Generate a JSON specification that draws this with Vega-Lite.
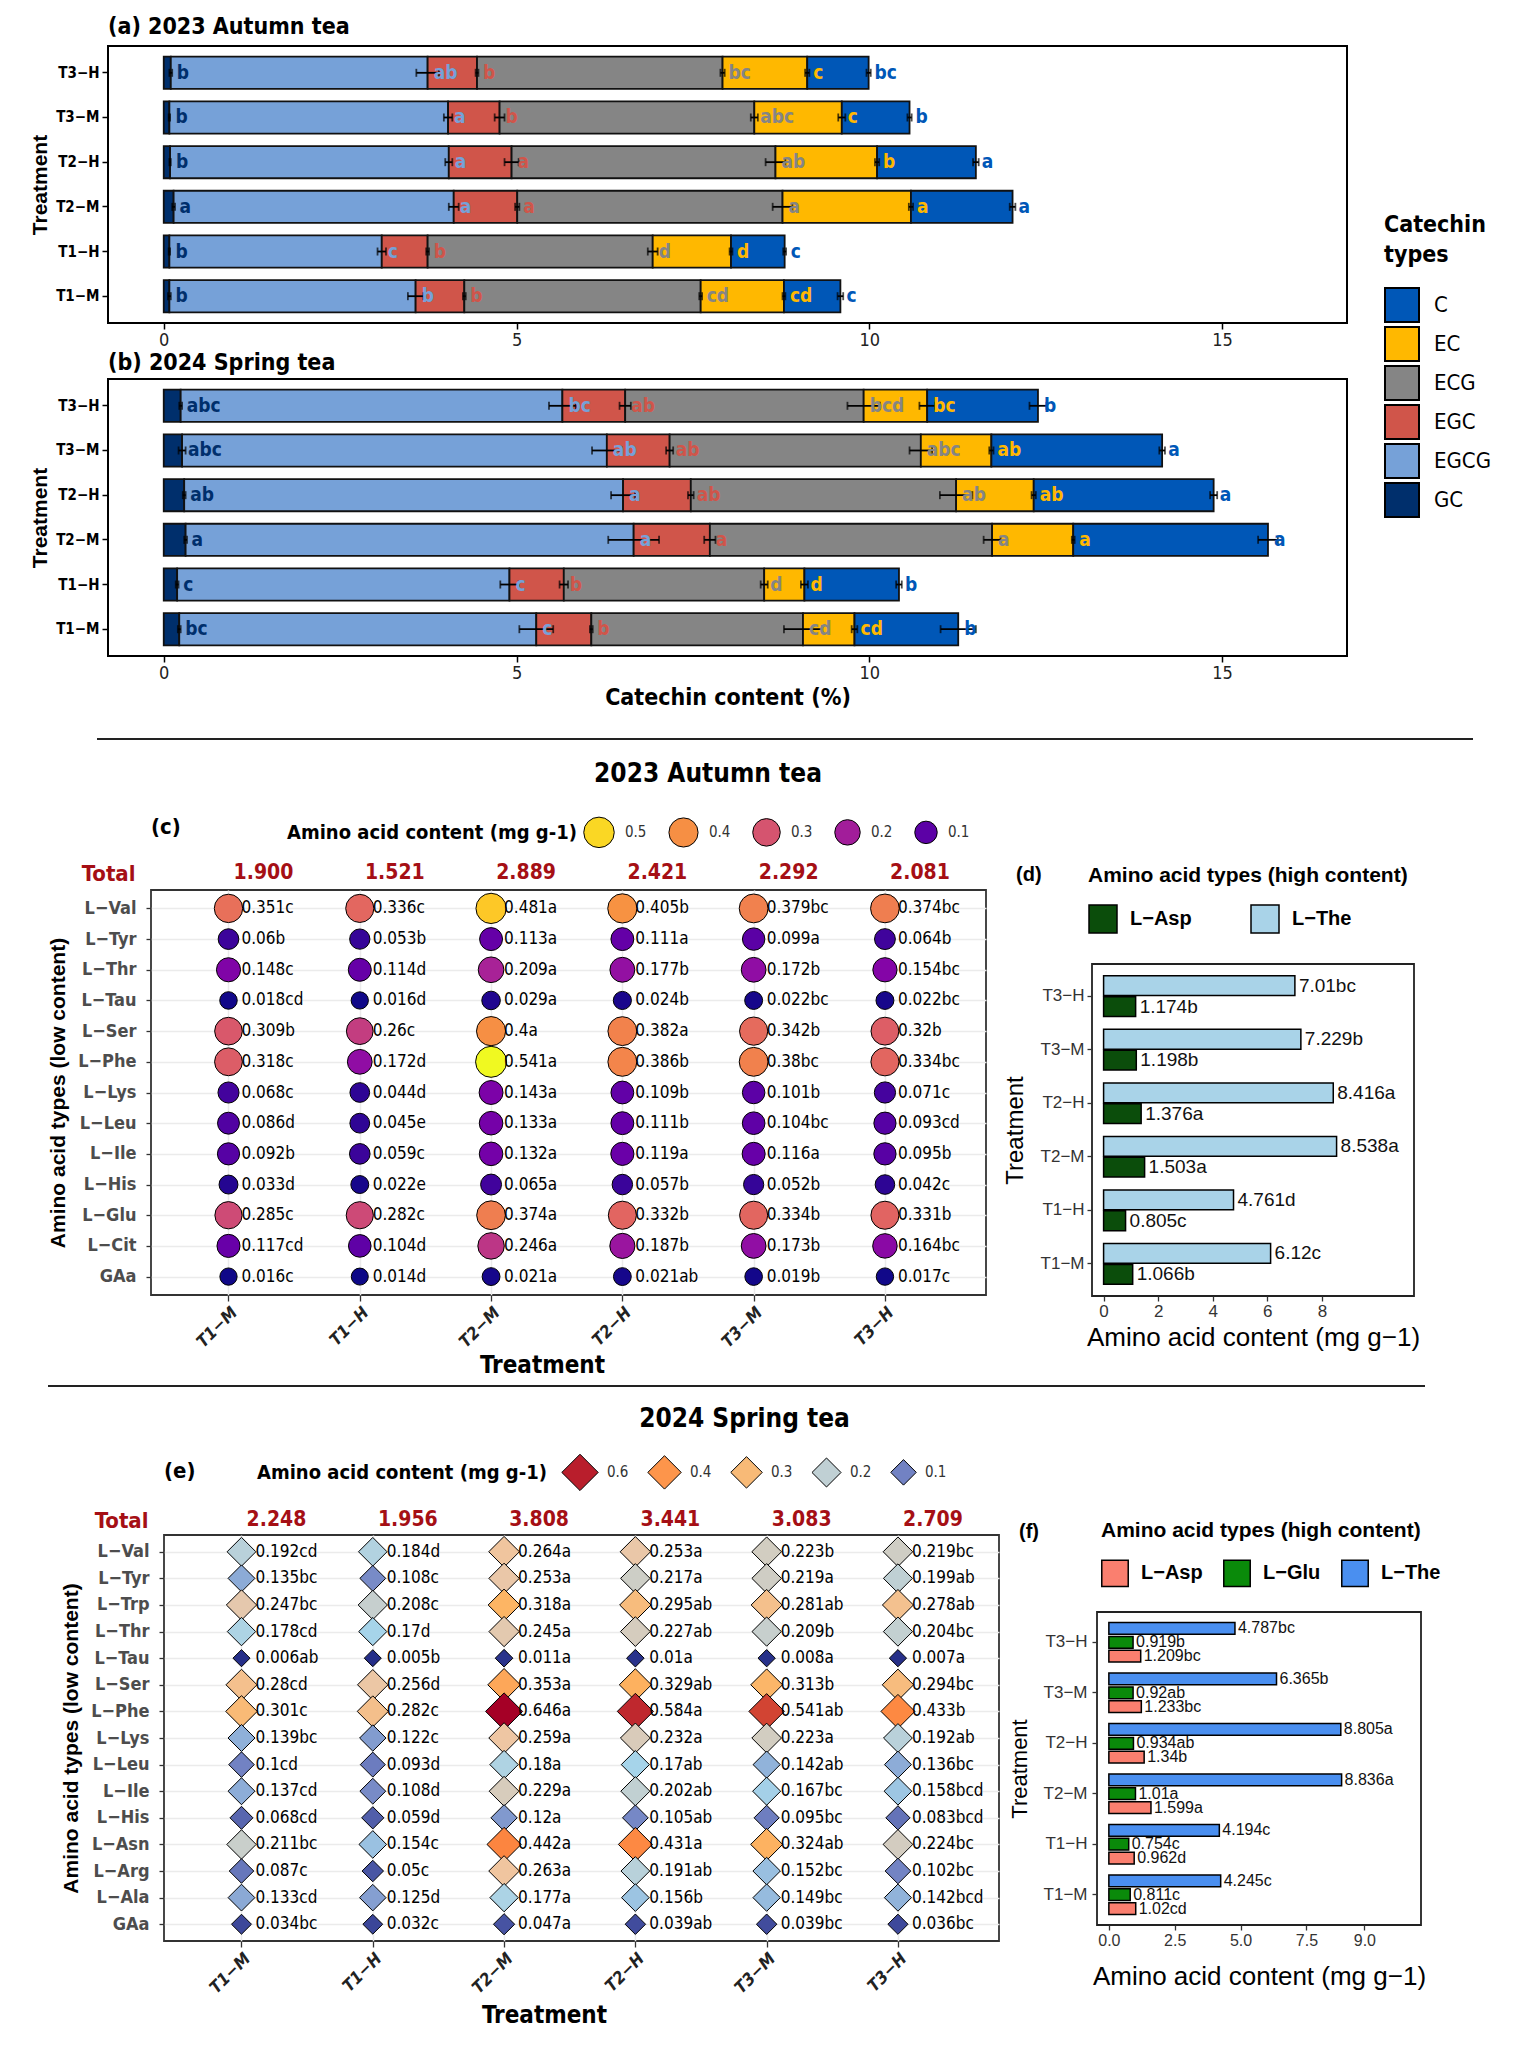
{
"$schema": "https://vega.github.io/schema/vega-lite/v6.json",
"background": "white",
"padding": {"left": 0, "top": 15, "right": 0, "bottom": 0},
"autosize": {"type": "pad"},
"config": {"view": {"stroke": null}, "axis": {"labelFont": "Liberation Sans", "titleFont": "Liberation Sans"}, "legend": {"labelFont": "Liberation Sans", "titleFont": "Liberation Sans", "titleLimit": 500, "labelLimit": 300}, "title": {"font": "Liberation Sans"}, "text": {"font": "Liberation Sans"}},
"datasets": {
"cat23": [
{"t":"T3−H","k":"GC","v":0.10,"se":0.02,"l":"b"},{"t":"T3−H","k":"EGCG","v":3.64,"se":0.16,"l":"ab"},{"t":"T3−H","k":"EGC","v":0.70,"se":0.02,"l":"b"},{"t":"T3−H","k":"ECG","v":3.48,"se":0.03,"l":"bc"},{"t":"T3−H","k":"EC","v":1.20,"se":0.03,"l":"c"},{"t":"T3−H","k":"C","v":0.87,"se":0.03,"l":"bc"},
{"t":"T3−M","k":"GC","v":0.08,"se":0.01,"l":"b"},{"t":"T3−M","k":"EGCG","v":3.95,"se":0.06,"l":"a"},{"t":"T3−M","k":"EGC","v":0.73,"se":0.07,"l":"b"},{"t":"T3−M","k":"ECG","v":3.61,"se":0.05,"l":"abc"},{"t":"T3−M","k":"EC","v":1.24,"se":0.05,"l":"c"},{"t":"T3−M","k":"C","v":0.96,"se":0.03,"l":"b"},
{"t":"T2−H","k":"GC","v":0.09,"se":0.01,"l":"b"},{"t":"T2−H","k":"EGCG","v":3.95,"se":0.05,"l":"a"},{"t":"T2−H","k":"EGC","v":0.89,"se":0.10,"l":"a"},{"t":"T2−H","k":"ECG","v":3.74,"se":0.14,"l":"ab"},{"t":"T2−H","k":"EC","v":1.44,"se":0.03,"l":"b"},{"t":"T2−H","k":"C","v":1.40,"se":0.04,"l":"a"},
{"t":"T2−M","k":"GC","v":0.14,"se":0.02,"l":"a"},{"t":"T2−M","k":"EGCG","v":3.97,"se":0.07,"l":"a"},{"t":"T2−M","k":"EGC","v":0.90,"se":0.03,"l":"a"},{"t":"T2−M","k":"ECG","v":3.76,"se":0.14,"l":"a"},{"t":"T2−M","k":"EC","v":1.82,"se":0.03,"l":"a"},{"t":"T2−M","k":"C","v":1.44,"se":0.04,"l":"a"},
{"t":"T1−H","k":"GC","v":0.08,"se":0.01,"l":"b"},{"t":"T1−H","k":"EGCG","v":3.01,"se":0.06,"l":"c"},{"t":"T1−H","k":"EGC","v":0.65,"se":0.02,"l":"b"},{"t":"T1−H","k":"ECG","v":3.19,"se":0.07,"l":"d"},{"t":"T1−H","k":"EC","v":1.11,"se":0.02,"l":"d"},{"t":"T1−H","k":"C","v":0.76,"se":0.02,"l":"c"},
{"t":"T1−M","k":"GC","v":0.08,"se":0.02,"l":"b"},{"t":"T1−M","k":"EGCG","v":3.49,"se":0.11,"l":"b"},{"t":"T1−M","k":"EGC","v":0.69,"se":0.02,"l":"b"},{"t":"T1−M","k":"ECG","v":3.35,"se":0.02,"l":"cd"},{"t":"T1−M","k":"EC","v":1.18,"se":0.02,"l":"cd"},{"t":"T1−M","k":"C","v":0.80,"se":0.04,"l":"c"}
],
"cat24": [
{"t":"T3−H","k":"GC","v":0.24,"se":0.02,"l":"abc"},{"t":"T3−H","k":"EGCG","v":5.41,"se":0.19,"l":"bc"},{"t":"T3−H","k":"EGC","v":0.89,"se":0.08,"l":"ab"},{"t":"T3−H","k":"ECG","v":3.38,"se":0.23,"l":"bcd"},{"t":"T3−H","k":"EC","v":0.90,"se":0.11,"l":"bc"},{"t":"T3−H","k":"C","v":1.57,"se":0.12,"l":"b"},
{"t":"T3−M","k":"GC","v":0.26,"se":0.05,"l":"abc"},{"t":"T3−M","k":"EGCG","v":6.02,"se":0.21,"l":"ab"},{"t":"T3−M","k":"EGC","v":0.89,"se":0.05,"l":"ab"},{"t":"T3−M","k":"ECG","v":3.56,"se":0.16,"l":"abc"},{"t":"T3−M","k":"EC","v":1.00,"se":0.03,"l":"ab"},{"t":"T3−M","k":"C","v":2.42,"se":0.04,"l":"a"},
{"t":"T2−H","k":"GC","v":0.29,"se":0.02,"l":"ab"},{"t":"T2−H","k":"EGCG","v":6.22,"se":0.17,"l":"a"},{"t":"T2−H","k":"EGC","v":0.96,"se":0.04,"l":"ab"},{"t":"T2−H","k":"ECG","v":3.76,"se":0.23,"l":"ab"},{"t":"T2−H","k":"EC","v":1.10,"se":0.03,"l":"ab"},{"t":"T2−H","k":"C","v":2.55,"se":0.05,"l":"a"},
{"t":"T2−M","k":"GC","v":0.31,"se":0.02,"l":"a"},{"t":"T2−M","k":"EGCG","v":6.35,"se":0.36,"l":"a"},{"t":"T2−M","k":"EGC","v":1.08,"se":0.08,"l":"a"},{"t":"T2−M","k":"ECG","v":4.00,"se":0.12,"l":"a"},{"t":"T2−M","k":"EC","v":1.15,"se":0.02,"l":"a"},{"t":"T2−M","k":"C","v":2.76,"se":0.14,"l":"a"},
{"t":"T1−H","k":"GC","v":0.19,"se":0.02,"l":"c"},{"t":"T1−H","k":"EGCG","v":4.71,"se":0.13,"l":"c"},{"t":"T1−H","k":"EGC","v":0.77,"se":0.06,"l":"b"},{"t":"T1−H","k":"ECG","v":2.84,"se":0.05,"l":"d"},{"t":"T1−H","k":"EC","v":0.57,"se":0.05,"l":"d"},{"t":"T1−H","k":"C","v":1.34,"se":0.04,"l":"b"},
{"t":"T1−M","k":"GC","v":0.22,"se":0.02,"l":"bc"},{"t":"T1−M","k":"EGCG","v":5.06,"se":0.24,"l":"c"},{"t":"T1−M","k":"EGC","v":0.78,"se":0.02,"l":"b"},{"t":"T1−M","k":"ECG","v":3.00,"se":0.27,"l":"cd"},{"t":"T1−M","k":"EC","v":0.73,"se":0.04,"l":"cd"},{"t":"T1−M","k":"C","v":1.47,"se":0.25,"l":"b"}
],
"tot23": [{"r":"Total","t":"T1−M","s":"1.900"},{"r":"Total","t":"T1−H","s":"1.521"},{"r":"Total","t":"T2−M","s":"2.889"},{"r":"Total","t":"T2−H","s":"2.421"},{"r":"Total","t":"T3−M","s":"2.292"},{"r":"Total","t":"T3−H","s":"2.081"}],
"tot24": [{"r":"Total","t":"T1−M","s":"2.248"},{"r":"Total","t":"T1−H","s":"1.956"},{"r":"Total","t":"T2−M","s":"3.808"},{"r":"Total","t":"T2−H","s":"3.441"},{"r":"Total","t":"T3−M","s":"3.083"},{"r":"Total","t":"T3−H","s":"2.709"}],
"aa23": [
{"a":"L−Val","t":"T1−M","v":0.351,"l":"0.351c"},{"a":"L−Val","t":"T1−H","v":0.336,"l":"0.336c"},{"a":"L−Val","t":"T2−M","v":0.481,"l":"0.481a"},{"a":"L−Val","t":"T2−H","v":0.405,"l":"0.405b"},{"a":"L−Val","t":"T3−M","v":0.379,"l":"0.379bc"},{"a":"L−Val","t":"T3−H","v":0.374,"l":"0.374bc"},
{"a":"L−Tyr","t":"T1−M","v":0.06,"l":"0.06b"},{"a":"L−Tyr","t":"T1−H","v":0.053,"l":"0.053b"},{"a":"L−Tyr","t":"T2−M","v":0.113,"l":"0.113a"},{"a":"L−Tyr","t":"T2−H","v":0.111,"l":"0.111a"},{"a":"L−Tyr","t":"T3−M","v":0.099,"l":"0.099a"},{"a":"L−Tyr","t":"T3−H","v":0.064,"l":"0.064b"},
{"a":"L−Thr","t":"T1−M","v":0.148,"l":"0.148c"},{"a":"L−Thr","t":"T1−H","v":0.114,"l":"0.114d"},{"a":"L−Thr","t":"T2−M","v":0.209,"l":"0.209a"},{"a":"L−Thr","t":"T2−H","v":0.177,"l":"0.177b"},{"a":"L−Thr","t":"T3−M","v":0.172,"l":"0.172b"},{"a":"L−Thr","t":"T3−H","v":0.154,"l":"0.154bc"},
{"a":"L−Tau","t":"T1−M","v":0.018,"l":"0.018cd"},{"a":"L−Tau","t":"T1−H","v":0.016,"l":"0.016d"},{"a":"L−Tau","t":"T2−M","v":0.029,"l":"0.029a"},{"a":"L−Tau","t":"T2−H","v":0.024,"l":"0.024b"},{"a":"L−Tau","t":"T3−M","v":0.022,"l":"0.022bc"},{"a":"L−Tau","t":"T3−H","v":0.022,"l":"0.022bc"},
{"a":"L−Ser","t":"T1−M","v":0.309,"l":"0.309b"},{"a":"L−Ser","t":"T1−H","v":0.26,"l":"0.26c"},{"a":"L−Ser","t":"T2−M","v":0.4,"l":"0.4a"},{"a":"L−Ser","t":"T2−H","v":0.382,"l":"0.382a"},{"a":"L−Ser","t":"T3−M","v":0.342,"l":"0.342b"},{"a":"L−Ser","t":"T3−H","v":0.32,"l":"0.32b"},
{"a":"L−Phe","t":"T1−M","v":0.318,"l":"0.318c"},{"a":"L−Phe","t":"T1−H","v":0.172,"l":"0.172d"},{"a":"L−Phe","t":"T2−M","v":0.541,"l":"0.541a"},{"a":"L−Phe","t":"T2−H","v":0.386,"l":"0.386b"},{"a":"L−Phe","t":"T3−M","v":0.38,"l":"0.38bc"},{"a":"L−Phe","t":"T3−H","v":0.334,"l":"0.334bc"},
{"a":"L−Lys","t":"T1−M","v":0.068,"l":"0.068c"},{"a":"L−Lys","t":"T1−H","v":0.044,"l":"0.044d"},{"a":"L−Lys","t":"T2−M","v":0.143,"l":"0.143a"},{"a":"L−Lys","t":"T2−H","v":0.109,"l":"0.109b"},{"a":"L−Lys","t":"T3−M","v":0.101,"l":"0.101b"},{"a":"L−Lys","t":"T3−H","v":0.071,"l":"0.071c"},
{"a":"L−Leu","t":"T1−M","v":0.086,"l":"0.086d"},{"a":"L−Leu","t":"T1−H","v":0.045,"l":"0.045e"},{"a":"L−Leu","t":"T2−M","v":0.133,"l":"0.133a"},{"a":"L−Leu","t":"T2−H","v":0.111,"l":"0.111b"},{"a":"L−Leu","t":"T3−M","v":0.104,"l":"0.104bc"},{"a":"L−Leu","t":"T3−H","v":0.093,"l":"0.093cd"},
{"a":"L−Ile","t":"T1−M","v":0.092,"l":"0.092b"},{"a":"L−Ile","t":"T1−H","v":0.059,"l":"0.059c"},{"a":"L−Ile","t":"T2−M","v":0.132,"l":"0.132a"},{"a":"L−Ile","t":"T2−H","v":0.119,"l":"0.119a"},{"a":"L−Ile","t":"T3−M","v":0.116,"l":"0.116a"},{"a":"L−Ile","t":"T3−H","v":0.095,"l":"0.095b"},
{"a":"L−His","t":"T1−M","v":0.033,"l":"0.033d"},{"a":"L−His","t":"T1−H","v":0.022,"l":"0.022e"},{"a":"L−His","t":"T2−M","v":0.065,"l":"0.065a"},{"a":"L−His","t":"T2−H","v":0.057,"l":"0.057b"},{"a":"L−His","t":"T3−M","v":0.052,"l":"0.052b"},{"a":"L−His","t":"T3−H","v":0.042,"l":"0.042c"},
{"a":"L−Glu","t":"T1−M","v":0.285,"l":"0.285c"},{"a":"L−Glu","t":"T1−H","v":0.282,"l":"0.282c"},{"a":"L−Glu","t":"T2−M","v":0.374,"l":"0.374a"},{"a":"L−Glu","t":"T2−H","v":0.332,"l":"0.332b"},{"a":"L−Glu","t":"T3−M","v":0.334,"l":"0.334b"},{"a":"L−Glu","t":"T3−H","v":0.331,"l":"0.331b"},
{"a":"L−Cit","t":"T1−M","v":0.117,"l":"0.117cd"},{"a":"L−Cit","t":"T1−H","v":0.104,"l":"0.104d"},{"a":"L−Cit","t":"T2−M","v":0.246,"l":"0.246a"},{"a":"L−Cit","t":"T2−H","v":0.187,"l":"0.187b"},{"a":"L−Cit","t":"T3−M","v":0.173,"l":"0.173b"},{"a":"L−Cit","t":"T3−H","v":0.164,"l":"0.164bc"},
{"a":"GAa","t":"T1−M","v":0.016,"l":"0.016c"},{"a":"GAa","t":"T1−H","v":0.014,"l":"0.014d"},{"a":"GAa","t":"T2−M","v":0.021,"l":"0.021a"},{"a":"GAa","t":"T2−H","v":0.021,"l":"0.021ab"},{"a":"GAa","t":"T3−M","v":0.019,"l":"0.019b"},{"a":"GAa","t":"T3−H","v":0.017,"l":"0.017c"}
],
"aa24": [
{"a":"L−Val","t":"T1−M","v":0.192,"l":"0.192cd"},{"a":"L−Val","t":"T1−H","v":0.184,"l":"0.184d"},{"a":"L−Val","t":"T2−M","v":0.264,"l":"0.264a"},{"a":"L−Val","t":"T2−H","v":0.253,"l":"0.253a"},{"a":"L−Val","t":"T3−M","v":0.223,"l":"0.223b"},{"a":"L−Val","t":"T3−H","v":0.219,"l":"0.219bc"},
{"a":"L−Tyr","t":"T1−M","v":0.135,"l":"0.135bc"},{"a":"L−Tyr","t":"T1−H","v":0.108,"l":"0.108c"},{"a":"L−Tyr","t":"T2−M","v":0.253,"l":"0.253a"},{"a":"L−Tyr","t":"T2−H","v":0.217,"l":"0.217a"},{"a":"L−Tyr","t":"T3−M","v":0.219,"l":"0.219a"},{"a":"L−Tyr","t":"T3−H","v":0.199,"l":"0.199ab"},
{"a":"L−Trp","t":"T1−M","v":0.247,"l":"0.247bc"},{"a":"L−Trp","t":"T1−H","v":0.208,"l":"0.208c"},{"a":"L−Trp","t":"T2−M","v":0.318,"l":"0.318a"},{"a":"L−Trp","t":"T2−H","v":0.295,"l":"0.295ab"},{"a":"L−Trp","t":"T3−M","v":0.281,"l":"0.281ab"},{"a":"L−Trp","t":"T3−H","v":0.278,"l":"0.278ab"},
{"a":"L−Thr","t":"T1−M","v":0.178,"l":"0.178cd"},{"a":"L−Thr","t":"T1−H","v":0.17,"l":"0.17d"},{"a":"L−Thr","t":"T2−M","v":0.245,"l":"0.245a"},{"a":"L−Thr","t":"T2−H","v":0.227,"l":"0.227ab"},{"a":"L−Thr","t":"T3−M","v":0.209,"l":"0.209b"},{"a":"L−Thr","t":"T3−H","v":0.204,"l":"0.204bc"},
{"a":"L−Tau","t":"T1−M","v":0.006,"l":"0.006ab"},{"a":"L−Tau","t":"T1−H","v":0.005,"l":"0.005b"},{"a":"L−Tau","t":"T2−M","v":0.011,"l":"0.011a"},{"a":"L−Tau","t":"T2−H","v":0.01,"l":"0.01a"},{"a":"L−Tau","t":"T3−M","v":0.008,"l":"0.008a"},{"a":"L−Tau","t":"T3−H","v":0.007,"l":"0.007a"},
{"a":"L−Ser","t":"T1−M","v":0.28,"l":"0.28cd"},{"a":"L−Ser","t":"T1−H","v":0.256,"l":"0.256d"},{"a":"L−Ser","t":"T2−M","v":0.353,"l":"0.353a"},{"a":"L−Ser","t":"T2−H","v":0.329,"l":"0.329ab"},{"a":"L−Ser","t":"T3−M","v":0.313,"l":"0.313b"},{"a":"L−Ser","t":"T3−H","v":0.294,"l":"0.294bc"},
{"a":"L−Phe","t":"T1−M","v":0.301,"l":"0.301c"},{"a":"L−Phe","t":"T1−H","v":0.282,"l":"0.282c"},{"a":"L−Phe","t":"T2−M","v":0.646,"l":"0.646a"},{"a":"L−Phe","t":"T2−H","v":0.584,"l":"0.584a"},{"a":"L−Phe","t":"T3−M","v":0.541,"l":"0.541ab"},{"a":"L−Phe","t":"T3−H","v":0.433,"l":"0.433b"},
{"a":"L−Lys","t":"T1−M","v":0.139,"l":"0.139bc"},{"a":"L−Lys","t":"T1−H","v":0.122,"l":"0.122c"},{"a":"L−Lys","t":"T2−M","v":0.259,"l":"0.259a"},{"a":"L−Lys","t":"T2−H","v":0.232,"l":"0.232a"},{"a":"L−Lys","t":"T3−M","v":0.223,"l":"0.223a"},{"a":"L−Lys","t":"T3−H","v":0.192,"l":"0.192ab"},
{"a":"L−Leu","t":"T1−M","v":0.1,"l":"0.1cd"},{"a":"L−Leu","t":"T1−H","v":0.093,"l":"0.093d"},{"a":"L−Leu","t":"T2−M","v":0.18,"l":"0.18a"},{"a":"L−Leu","t":"T2−H","v":0.17,"l":"0.17ab"},{"a":"L−Leu","t":"T3−M","v":0.142,"l":"0.142ab"},{"a":"L−Leu","t":"T3−H","v":0.136,"l":"0.136bc"},
{"a":"L−Ile","t":"T1−M","v":0.137,"l":"0.137cd"},{"a":"L−Ile","t":"T1−H","v":0.108,"l":"0.108d"},{"a":"L−Ile","t":"T2−M","v":0.229,"l":"0.229a"},{"a":"L−Ile","t":"T2−H","v":0.202,"l":"0.202ab"},{"a":"L−Ile","t":"T3−M","v":0.167,"l":"0.167bc"},{"a":"L−Ile","t":"T3−H","v":0.158,"l":"0.158bcd"},
{"a":"L−His","t":"T1−M","v":0.068,"l":"0.068cd"},{"a":"L−His","t":"T1−H","v":0.059,"l":"0.059d"},{"a":"L−His","t":"T2−M","v":0.12,"l":"0.12a"},{"a":"L−His","t":"T2−H","v":0.105,"l":"0.105ab"},{"a":"L−His","t":"T3−M","v":0.095,"l":"0.095bc"},{"a":"L−His","t":"T3−H","v":0.083,"l":"0.083bcd"},
{"a":"L−Asn","t":"T1−M","v":0.211,"l":"0.211bc"},{"a":"L−Asn","t":"T1−H","v":0.154,"l":"0.154c"},{"a":"L−Asn","t":"T2−M","v":0.442,"l":"0.442a"},{"a":"L−Asn","t":"T2−H","v":0.431,"l":"0.431a"},{"a":"L−Asn","t":"T3−M","v":0.324,"l":"0.324ab"},{"a":"L−Asn","t":"T3−H","v":0.224,"l":"0.224bc"},
{"a":"L−Arg","t":"T1−M","v":0.087,"l":"0.087c"},{"a":"L−Arg","t":"T1−H","v":0.05,"l":"0.05c"},{"a":"L−Arg","t":"T2−M","v":0.263,"l":"0.263a"},{"a":"L−Arg","t":"T2−H","v":0.191,"l":"0.191ab"},{"a":"L−Arg","t":"T3−M","v":0.152,"l":"0.152bc"},{"a":"L−Arg","t":"T3−H","v":0.102,"l":"0.102bc"},
{"a":"L−Ala","t":"T1−M","v":0.133,"l":"0.133cd"},{"a":"L−Ala","t":"T1−H","v":0.125,"l":"0.125d"},{"a":"L−Ala","t":"T2−M","v":0.177,"l":"0.177a"},{"a":"L−Ala","t":"T2−H","v":0.156,"l":"0.156b"},{"a":"L−Ala","t":"T3−M","v":0.149,"l":"0.149bc"},{"a":"L−Ala","t":"T3−H","v":0.142,"l":"0.142bcd"},
{"a":"GAa","t":"T1−M","v":0.034,"l":"0.034bc"},{"a":"GAa","t":"T1−H","v":0.032,"l":"0.032c"},{"a":"GAa","t":"T2−M","v":0.047,"l":"0.047a"},{"a":"GAa","t":"T2−H","v":0.039,"l":"0.039ab"},{"a":"GAa","t":"T3−M","v":0.039,"l":"0.039bc"},{"a":"GAa","t":"T3−H","v":0.036,"l":"0.036bc"}
],
"hi23": [
{"t":"T3−H","k":"L−The","v":7.01,"l":"7.01bc"},{"t":"T3−M","k":"L−The","v":7.229,"l":"7.229b"},{"t":"T2−H","k":"L−The","v":8.416,"l":"8.416a"},{"t":"T2−M","k":"L−The","v":8.538,"l":"8.538a"},{"t":"T1−H","k":"L−The","v":4.761,"l":"4.761d"},{"t":"T1−M","k":"L−The","v":6.12,"l":"6.12c"},
{"t":"T3−H","k":"L−Asp","v":1.174,"l":"1.174b"},{"t":"T3−M","k":"L−Asp","v":1.198,"l":"1.198b"},{"t":"T2−H","k":"L−Asp","v":1.376,"l":"1.376a"},{"t":"T2−M","k":"L−Asp","v":1.503,"l":"1.503a"},{"t":"T1−H","k":"L−Asp","v":0.805,"l":"0.805c"},{"t":"T1−M","k":"L−Asp","v":1.066,"l":"1.066b"}
],
"hi24": [
{"t":"T3−H","k":"L−The","v":4.787,"l":"4.787bc"},{"t":"T3−M","k":"L−The","v":6.365,"l":"6.365b"},{"t":"T2−H","k":"L−The","v":8.805,"l":"8.805a"},{"t":"T2−M","k":"L−The","v":8.836,"l":"8.836a"},{"t":"T1−H","k":"L−The","v":4.194,"l":"4.194c"},{"t":"T1−M","k":"L−The","v":4.245,"l":"4.245c"},
{"t":"T3−H","k":"L−Glu","v":0.919,"l":"0.919b"},{"t":"T3−M","k":"L−Glu","v":0.92,"l":"0.92ab"},{"t":"T2−H","k":"L−Glu","v":0.934,"l":"0.934ab"},{"t":"T2−M","k":"L−Glu","v":1.01,"l":"1.01a"},{"t":"T1−H","k":"L−Glu","v":0.754,"l":"0.754c"},{"t":"T1−M","k":"L−Glu","v":0.811,"l":"0.811c"},
{"t":"T3−H","k":"L−Asp","v":1.209,"l":"1.209bc"},{"t":"T3−M","k":"L−Asp","v":1.233,"l":"1.233bc"},{"t":"T2−H","k":"L−Asp","v":1.34,"l":"1.34b"},{"t":"T2−M","k":"L−Asp","v":1.599,"l":"1.599a"},{"t":"T1−H","k":"L−Asp","v":0.962,"l":"0.962d"},{"t":"T1−M","k":"L−Asp","v":1.02,"l":"1.02cd"}
]
},
"spacing": 0,
"resolve": {"scale": {"color": "independent", "size": "independent", "yOffset": "independent"}, "legend": {"color": "independent", "size": "independent"}},
"vconcat": [
{"hconcat": [
  {"width":28,"height":1,"data":{"values":[]},"mark":"point","encoding":{}},
  {"vconcat": [
    {"width": 1239, "height": 277,
     "title": {"text": "(a) 2023 Autumn tea", "anchor": "start", "frame": "group", "baseline": "bottom", "offset": -16, "font": "Liberation Sans Narrow, Arial Narrow, DejaVu Sans Condensed, Liberation Sans", "fontSize": 23, "fontWeight": "bold", "color": "black"},
     "data": {"name": "cat23"},
     "transform": [{"stack": "v", "groupby": ["t"], "sort": [{"field": "k", "order": "descending"}], "as": ["x0", "x1"]}],
     "view": {"stroke": "black", "strokeWidth": 2},
     "encoding": {"y": {"field": "t", "type": "nominal", "title": "Treatment", "scale": {"domain": ["T3−H","T3−M","T2−H","T2−M","T1−H","T1−M"], "paddingInner": 0.28, "paddingOuter": 0.24},
        "axis": {"domain": false, "labelFont": "Liberation Sans Narrow, Arial Narrow, DejaVu Sans Condensed, Liberation Sans", "labelFontSize": 15, "labelFontWeight": "bold", "labelColor": "black", "labelPadding": 3, "tickSize": 6, "tickWidth": 1.5, "tickColor": "black", "titleFont": "Liberation Sans", "titleFontSize": 21, "titleFontWeight": "bold", "titleColor": "black", "titlePadding": 5}}},
     "layer": [
       {"mark": {"type": "bar", "stroke": "#111111", "strokeWidth": 1.8},
        "encoding": {"x": {"field": "x0", "type": "quantitative", "title": null, "scale": {"domain": [-0.79, 16.77], "nice": false, "zero": false},
            "axis": {"values": [0,5,10,15], "format": "d", "domain": false, "grid": false, "labelFont": "Liberation Sans Narrow, Arial Narrow, DejaVu Sans Condensed, Liberation Sans", "labelFontSize": 18, "labelColor": "#222222", "labelPadding": 2, "tickSize": 6, "tickWidth": 1.5, "tickColor": "black"}},
          "x2": {"field": "x1"},
          "color": {"field": "k", "type": "nominal", "scale": {"domain": ["C","EC","ECG","EGC","EGCG","GC"], "range": ["#0057b7","#ffb800","#858585","#d0554a","#76a1d8","#002f6c"]},
            "legend": {"orient": "none", "legendX": 1276, "legendY": 168, "title": ["Catechin", "types"], "titleFont": "Liberation Sans Narrow, Arial Narrow, DejaVu Sans Condensed, Liberation Sans", "titleFontSize": 23, "titleFontWeight": "bold", "titleColor": "black", "titleLineHeight": 30, "titlePadding": 20, "labelFont": "Liberation Sans Narrow, Arial Narrow, DejaVu Sans Condensed, Liberation Sans", "labelFontSize": 22, "labelColor": "black", "labelOffset": 14, "symbolType": "square", "symbolSize": 1156, "symbolStrokeColor": "black", "symbolStrokeWidth": 2, "rowPadding": -7, "symbolOpacity": 1}}}},
       {"mark": {"type": "errorbar", "ticks": true, "size": 8, "thickness": 1.8, "color": "black"},
        "encoding": {"x": {"field": "x1", "type": "quantitative", "title": null}, "xError": {"field": "se"}}},
       {"mark": {"type": "text", "align": "left", "baseline": "middle", "dx": 6, "font": "Liberation Sans Narrow, Arial Narrow, DejaVu Sans Condensed, Liberation Sans", "fontSize": 19, "fontWeight": "bold"},
        "encoding": {"x": {"field": "x1", "type": "quantitative", "title": null}, "text": {"field": "l"}, "color": {"field": "k", "type": "nominal"}}}
     ]},
    {"width": 1239, "height": 277,
     "title": {"text": "(b) 2024 Spring tea", "anchor": "start", "frame": "group", "baseline": "bottom", "offset": -19, "font": "Liberation Sans Narrow, Arial Narrow, DejaVu Sans Condensed, Liberation Sans", "fontSize": 23, "fontWeight": "bold", "color": "black"},
     "data": {"name": "cat24"},
     "transform": [{"stack": "v", "groupby": ["t"], "sort": [{"field": "k", "order": "descending"}], "as": ["x0", "x1"]}],
     "view": {"stroke": "black", "strokeWidth": 2},
     "encoding": {"y": {"field": "t", "type": "nominal", "title": "Treatment", "scale": {"domain": ["T3−H","T3−M","T2−H","T2−M","T1−H","T1−M"], "paddingInner": 0.28, "paddingOuter": 0.24},
        "axis": {"domain": false, "labelFont": "Liberation Sans Narrow, Arial Narrow, DejaVu Sans Condensed, Liberation Sans", "labelFontSize": 15, "labelFontWeight": "bold", "labelColor": "black", "labelPadding": 3, "tickSize": 6, "tickWidth": 1.5, "tickColor": "black", "titleFont": "Liberation Sans", "titleFontSize": 21, "titleFontWeight": "bold", "titleColor": "black", "titlePadding": 5}}},
     "layer": [
       {"mark": {"type": "bar", "stroke": "#111111", "strokeWidth": 1.8},
        "encoding": {"x": {"field": "x0", "type": "quantitative", "title": "Catechin content (%)", "scale": {"domain": [-0.79, 16.77], "nice": false, "zero": false},
            "axis": {"values": [0,5,10,15], "format": "d", "domain": false, "grid": false, "labelFont": "Liberation Sans Narrow, Arial Narrow, DejaVu Sans Condensed, Liberation Sans", "labelFontSize": 18, "labelColor": "#222222", "labelPadding": 2, "tickSize": 6, "tickWidth": 1.5, "tickColor": "black", "titleFont": "Liberation Sans Narrow, Arial Narrow, DejaVu Sans Condensed, Liberation Sans", "titleFontSize": 23, "titleFontWeight": "bold", "titleColor": "black", "titlePadding": 4}},
          "x2": {"field": "x1"},
          "color": {"field": "k", "type": "nominal", "scale": {"domain": ["C","EC","ECG","EGC","EGCG","GC"], "range": ["#0057b7","#ffb800","#858585","#d0554a","#76a1d8","#002f6c"]}, "legend": null}}},
       {"mark": {"type": "errorbar", "ticks": true, "size": 8, "thickness": 1.8, "color": "black"},
        "encoding": {"x": {"field": "x1", "type": "quantitative", "title": "Catechin content (%)"}, "xError": {"field": "se"}}},
       {"mark": {"type": "text", "align": "left", "baseline": "middle", "dx": 6, "font": "Liberation Sans Narrow, Arial Narrow, DejaVu Sans Condensed, Liberation Sans", "fontSize": 19, "fontWeight": "bold"},
        "encoding": {"x": {"field": "x1", "type": "quantitative", "title": "Catechin content (%)"}, "text": {"field": "l"}, "color": {"field": "k", "type": "nominal", "legend": null}}}
     ]}
  ], "spacing": 56, "bounds": "flush", "resolve": {"scale": {"color": "independent"}, "legend": {"color": "independent"}}}
 ], "spacing": 0, "resolve": {"scale": {"color": "independent"}, "legend": {"color": "independent"}}},
{"width":1,"height":28,"data":{"values":[]},"mark":"point","encoding":{}},
{"hconcat": [
  {"width":97,"height":1,"data":{"values":[]},"mark":"point","encoding":{}},
  {"width": 1376, "height": 2, "data": {"values": []}, "mark": "point", "encoding": {}, "view": {"fill": "#222222", "stroke": null},
   "title": {"text": "2023 Autumn tea", "orient": "bottom", "anchor": "middle", "dx": -77, "offset": 21, "baseline": "top", "font": "Liberation Sans Narrow, Arial Narrow, DejaVu Sans Condensed, Liberation Sans", "fontSize": 26, "fontWeight": "bold", "color": "black"}}
 ], "spacing": 0},
{"width":1,"height":28,"data":{"values":[]},"mark":"point","encoding":{}},
{"hconcat": [
  {"width":31,"height":1,"data":{"values":[]},"mark":"point","encoding":{}},
  {"vconcat": [
    {"width": 835, "height": 34, "data": {"name": "tot23"},
     "title": {"text": "(c)", "anchor": "start", "frame": "group", "baseline": "bottom", "offset": -5, "font": "Liberation Sans Narrow, Arial Narrow, DejaVu Sans Condensed, Liberation Sans", "fontSize": 22, "fontWeight": "bold", "color": "black"},
     "mark": {"type": "text", "dx": 35, "font": "Liberation Sans Narrow, Arial Narrow, DejaVu Sans Condensed, Liberation Sans", "fontSize": 21, "fontWeight": "bold", "color": "#a50f15"},
     "encoding": {
       "x": {"field": "t", "type": "nominal", "scale": {"type": "point", "domain": ["T1−M","T1−H","T2−M","T2−H","T3−M","T3−H"], "padding": 0.68, "align": 0.434}, "axis": null},
       "y": {"field": "r", "type": "nominal", "title": null, "axis": {"ticks": false, "domain": false, "labelFont": "Liberation Sans Narrow, Arial Narrow, DejaVu Sans Condensed, Liberation Sans", "labelFontSize": 22, "labelFontWeight": "bold", "labelColor": "#a50f15", "labelPadding": 16}},
       "text": {"field": "s"}}},
    {"width": 835, "height": 405, "data": {"name": "aa23"},
     "view": {"stroke": "#333333", "strokeWidth": 1.8},
     "encoding": {
       "x": {"field": "t", "type": "nominal", "title": "Treatment", "scale": {"type": "point", "domain": ["T1−M","T1−H","T2−M","T2−H","T3−M","T3−H"], "padding": 0.68, "align": 0.434},
         "axis": {"labelAngle": -45, "labelAlign": "right", "labelBaseline": "top", "labelFont": "Liberation Sans Narrow, Arial Narrow, DejaVu Sans Condensed, Liberation Sans", "labelFontSize": 17, "labelFontWeight": "bold", "labelFontStyle": "italic", "labelColor": "#222222", "labelPadding": 3, "tickSize": 6, "tickColor": "#333333", "tickWidth": 1.3, "domain": false, "grid": true, "gridColor": "#ebebeb", "gridWidth": 1.5, "titleFont": "Liberation Sans Narrow, Arial Narrow, DejaVu Sans Condensed, Liberation Sans", "titleFontSize": 24, "titleFontWeight": "bold", "titleColor": "black", "titleX": 391, "titleY": 70, "titleBaseline": "middle"}},
       "y": {"field": "a", "type": "nominal", "title": "Amino acid types (low content)", "scale": {"type": "point", "domain": ["L−Val","L−Tyr","L−Thr","L−Tau","L−Ser","L−Phe","L−Lys","L−Leu","L−Ile","L−His","L−Glu","L−Cit","GAa"], "padding": 0.6},
         "axis": {"labelFont": "Liberation Sans Narrow, Arial Narrow, DejaVu Sans Condensed, Liberation Sans", "labelFontSize": 18, "labelFontWeight": "bold", "labelColor": "#4d4d4d", "labelPadding": 10, "tickSize": 5, "tickColor": "#333333", "tickWidth": 1.3, "domain": false, "grid": true, "gridColor": "#ebebeb", "gridWidth": 1.5, "titleFont": "Liberation Sans", "titleFontSize": 21, "titleFontWeight": "bold", "titleColor": "black", "titlePadding": 9}}},
     "layer": [
       {"mark": {"type": "circle", "stroke": "black", "strokeWidth": 1, "opacity": 1},
        "encoding": {
          "color": {"field": "v", "type": "quantitative", "scale": {"scheme": "plasma", "domain": [0.014, 0.541]},
            "legend": {"type": "symbol", "values": [0.5,0.4,0.3,0.2,0.1], "title": "Amino acid content (mg g-1)", "orient": "none", "legendX": 136, "legendY": -74, "direction": "horizontal", "titleOrient": "left", "titleAnchor": "middle", "titleBaseline": "middle", "titleFont": "Liberation Sans Narrow, Arial Narrow, DejaVu Sans Condensed, Liberation Sans", "titleFontSize": 20, "titleFontWeight": "bold", "titleColor": "black", "titlePadding": 6, "labelFont": "Liberation Sans Narrow, Arial Narrow, DejaVu Sans Condensed, Liberation Sans", "labelFontSize": 15, "labelColor": "#333333", "labelOffset": 10, "columnPadding": 19, "symbolType": "circle", "symbolStrokeColor": "black", "symbolStrokeWidth": 1}},
          "size": {"field": "v", "type": "quantitative", "scale": {"type": "sqrt", "domain": [0.014, 0.541], "range": [289, 961], "zero": false},
            "legend": {"type": "symbol", "values": [0.5,0.4,0.3,0.2,0.1], "title": "Amino acid content (mg g-1)", "orient": "none", "legendX": 136, "legendY": -74, "direction": "horizontal", "titleOrient": "left", "titleAnchor": "middle", "titleBaseline": "middle", "titleFont": "Liberation Sans Narrow, Arial Narrow, DejaVu Sans Condensed, Liberation Sans", "titleFontSize": 20, "titleFontWeight": "bold", "titleColor": "black", "titlePadding": 6, "labelFont": "Liberation Sans Narrow, Arial Narrow, DejaVu Sans Condensed, Liberation Sans", "labelFontSize": 15, "labelColor": "#333333", "labelOffset": 10, "columnPadding": 19, "symbolType": "circle", "symbolStrokeColor": "black", "symbolStrokeWidth": 1}}}},
       {"mark": {"type": "text", "align": "left", "baseline": "middle", "dx": 13, "font": "Liberation Sans Narrow, Arial Narrow, DejaVu Sans Condensed, Liberation Sans", "fontSize": 17, "color": "black"},
        "encoding": {"text": {"field": "l"}}}
     ]}
  ], "spacing": 0, "bounds": "flush", "resolve": {"scale": {"x": "independent", "y": "independent", "color": "independent", "size": "independent"}, "legend": {"color": "independent", "size": "independent"}}},
  {"vconcat": [
    {"width":1,"height":1,"data":{"values":[]},"mark":"point","encoding":{}},
    {"width": 322, "height": 332, "data": {"name": "hi23"},
     "title": {"text": "(d)", "anchor": "start", "frame": "group", "baseline": "bottom", "dx": -76, "offset": -40, "font": "Liberation Sans", "fontSize": 20, "fontWeight": "bold", "color": "black"},
     "view": {"stroke": "#222222", "strokeWidth": 1.8},
     "encoding": {
       "y": {"field": "t", "type": "nominal", "title": "Treatment", "scale": {"domain": ["T3−H","T3−M","T2−H","T2−M","T1−H","T1−M"], "paddingInner": 0.24, "paddingOuter": 0.22},
         "axis": {"domain": false, "labelFont": "Liberation Sans", "labelFontSize": 17, "labelColor": "#333333", "labelPadding": 3, "tickSize": 5, "tickColor": "#333333", "tickWidth": 1.3, "titleFont": "Liberation Sans", "titleFontSize": 24, "titleFontWeight": "normal", "titleColor": "black", "titlePadding": 13}},
       "yOffset": {"field": "k", "type": "nominal", "scale": {"domain": ["L−The","L−Asp"], "paddingInner": 0.05}},
       "x": {"field": "v", "type": "quantitative", "stack": null, "title": "Amino acid content (mg g−1)", "scale": {"domain": [-0.425, 11.375], "nice": false, "zero": false},
         "axis": {"values": [0,2,4,6,8], "domain": false, "grid": false, "labelFont": "Liberation Sans", "labelFontSize": 17, "labelColor": "#333333", "labelPadding": 2, "tickSize": 5, "tickColor": "#333333", "tickWidth": 1.3, "titleFont": "Liberation Sans", "titleFontSize": 26, "titleFontWeight": "normal", "titleColor": "black", "titlePadding": 5}}},
     "layer": [
       {"mark": {"type": "bar", "stroke": "black", "strokeWidth": 1.5},
        "encoding": {"x2": {"datum": 0},
          "color": {"field": "k", "type": "nominal", "scale": {"domain": ["L−Asp","L−The"], "range": ["#0b4d0b","#a9d3e8"]},
            "legend": {"orient": "none", "legendX": -4, "legendY": -99, "direction": "horizontal", "title": "Amino acid types (high content)", "titleFont": "Liberation Sans", "titleFontSize": 21, "titleFontWeight": "bold", "titleColor": "black", "titlePadding": 18, "labelFont": "Liberation Sans", "labelFontSize": 20, "labelFontWeight": "bold", "labelColor": "black", "labelOffset": 12, "columnPadding": 56, "symbolType": "square", "symbolSize": 784, "symbolStrokeColor": "black", "symbolStrokeWidth": 1.5, "symbolOpacity": 1}}}},
       {"mark": {"type": "text", "align": "left", "baseline": "middle", "dx": 4, "font": "Liberation Sans", "fontSize": 19, "color": "#111111"},
        "encoding": {"text": {"field": "l"}}}
     ]}
  ], "spacing": 107, "bounds": "flush", "resolve": {"scale": {"x": "independent", "y": "independent", "color": "independent", "yOffset": "independent"}, "legend": {"color": "independent"}}}
 ], "spacing": 15, "resolve": {"scale": {"color": "independent", "size": "independent", "yOffset": "independent"}, "legend": {"color": "independent", "size": "independent"}}},
{"width":1,"height":7,"data":{"values":[]},"mark":"point","encoding":{}},
{"hconcat": [
  {"width":48,"height":1,"data":{"values":[]},"mark":"point","encoding":{}},
  {"width": 1377, "height": 2, "data": {"values": []}, "mark": "point", "encoding": {}, "view": {"fill": "#222222", "stroke": null},
   "title": {"text": "2024 Spring tea", "orient": "bottom", "anchor": "middle", "dx": 8, "offset": 19, "baseline": "top", "font": "Liberation Sans Narrow, Arial Narrow, DejaVu Sans Condensed, Liberation Sans", "fontSize": 26, "fontWeight": "bold", "color": "black"}}
 ], "spacing": 0},
{"width":1,"height":20,"data":{"values":[]},"mark":"point","encoding":{}},
{"hconcat": [
  {"width":52,"height":1,"data":{"values":[]},"mark":"point","encoding":{}},
  {"vconcat": [
    {"width": 835, "height": 30, "data": {"name": "tot24"},
     "title": {"text": "(e)", "anchor": "start", "frame": "group", "baseline": "bottom", "offset": 0, "font": "Liberation Sans Narrow, Arial Narrow, DejaVu Sans Condensed, Liberation Sans", "fontSize": 22, "fontWeight": "bold", "color": "black"},
     "mark": {"type": "text", "dx": 35, "font": "Liberation Sans Narrow, Arial Narrow, DejaVu Sans Condensed, Liberation Sans", "fontSize": 21, "fontWeight": "bold", "color": "#a50f15"},
     "encoding": {
       "x": {"field": "t", "type": "nominal", "scale": {"type": "point", "domain": ["T1−M","T1−H","T2−M","T2−H","T3−M","T3−H"], "padding": 0.68, "align": 0.434}, "axis": null},
       "y": {"field": "r", "type": "nominal", "title": null, "axis": {"ticks": false, "domain": false, "labelFont": "Liberation Sans Narrow, Arial Narrow, DejaVu Sans Condensed, Liberation Sans", "labelFontSize": 22, "labelFontWeight": "bold", "labelColor": "#a50f15", "labelPadding": 16}},
       "text": {"field": "s"}}},
    {"width": 835, "height": 406, "data": {"name": "aa24"},
     "view": {"stroke": "#333333", "strokeWidth": 1.8},
     "encoding": {
       "x": {"field": "t", "type": "nominal", "title": "Treatment", "scale": {"type": "point", "domain": ["T1−M","T1−H","T2−M","T2−H","T3−M","T3−H"], "padding": 0.68, "align": 0.434},
         "axis": {"labelAngle": -45, "labelAlign": "right", "labelBaseline": "top", "labelFont": "Liberation Sans Narrow, Arial Narrow, DejaVu Sans Condensed, Liberation Sans", "labelFontSize": 17, "labelFontWeight": "bold", "labelFontStyle": "italic", "labelColor": "#222222", "labelPadding": 3, "tickSize": 6, "tickColor": "#333333", "tickWidth": 1.3, "domain": false, "grid": true, "gridColor": "#ebebeb", "gridWidth": 1.5, "titleFont": "Liberation Sans Narrow, Arial Narrow, DejaVu Sans Condensed, Liberation Sans", "titleFontSize": 24, "titleFontWeight": "bold", "titleColor": "black", "titleX": 380, "titleY": 74, "titleBaseline": "middle"}},
       "y": {"field": "a", "type": "nominal", "title": "Amino acid types (low content)", "scale": {"type": "point", "domain": ["L−Val","L−Tyr","L−Trp","L−Thr","L−Tau","L−Ser","L−Phe","L−Lys","L−Leu","L−Ile","L−His","L−Asn","L−Arg","L−Ala","GAa"], "padding": 0.63},
         "axis": {"labelFont": "Liberation Sans Narrow, Arial Narrow, DejaVu Sans Condensed, Liberation Sans", "labelFontSize": 18, "labelFontWeight": "bold", "labelColor": "#4d4d4d", "labelPadding": 10, "tickSize": 5, "tickColor": "#333333", "tickWidth": 1.3, "domain": false, "grid": true, "gridColor": "#ebebeb", "gridWidth": 1.5, "titleFont": "Liberation Sans", "titleFontSize": 21, "titleFontWeight": "bold", "titleColor": "black", "titlePadding": 9}}},
     "layer": [
       {"mark": {"type": "point", "shape": "diamond", "filled": true, "stroke": "black", "strokeWidth": 1, "opacity": 1},
        "encoding": {
          "color": {"field": "v", "type": "quantitative", "scale": {"domain": [0.005, 0.1, 0.17, 0.21, 0.26, 0.32, 0.44, 0.646], "range": ["#252e88","#7282c3","#a6d4ea","#c8cfcc","#efc6a2","#fdb462","#fd8640","#a50026"], "interpolate": "rgb"},
            "legend": {"type": "symbol", "values": [0.6,0.4,0.3,0.2,0.1], "title": "Amino acid content (mg g-1)", "orient": "none", "legendX": 93, "legendY": -82, "direction": "horizontal", "titleOrient": "left", "titleAnchor": "middle", "titleBaseline": "middle", "titleFont": "Liberation Sans Narrow, Arial Narrow, DejaVu Sans Condensed, Liberation Sans", "titleFontSize": 20, "titleFontWeight": "bold", "titleColor": "black", "titlePadding": 14, "labelFont": "Liberation Sans Narrow, Arial Narrow, DejaVu Sans Condensed, Liberation Sans", "labelFontSize": 15, "labelColor": "#333333", "labelOffset": 8, "columnPadding": 16, "symbolType": "diamond", "symbolStrokeColor": "black", "symbolStrokeWidth": 1}},
          "size": {"field": "v", "type": "quantitative", "scale": {"domain": [0.005, 0.1, 0.17, 0.21, 0.26, 0.32, 0.44, 0.646], "range": [289, 651, 792, 860, 936, 1018, 1162, 1369], "zero": false},
            "legend": {"type": "symbol", "values": [0.6,0.4,0.3,0.2,0.1], "title": "Amino acid content (mg g-1)", "orient": "none", "legendX": 93, "legendY": -82, "direction": "horizontal", "titleOrient": "left", "titleAnchor": "middle", "titleBaseline": "middle", "titleFont": "Liberation Sans Narrow, Arial Narrow, DejaVu Sans Condensed, Liberation Sans", "titleFontSize": 20, "titleFontWeight": "bold", "titleColor": "black", "titlePadding": 14, "labelFont": "Liberation Sans Narrow, Arial Narrow, DejaVu Sans Condensed, Liberation Sans", "labelFontSize": 15, "labelColor": "#333333", "labelOffset": 8, "columnPadding": 16, "symbolType": "diamond", "symbolStrokeColor": "black", "symbolStrokeWidth": 1}}}},
       {"mark": {"type": "text", "align": "left", "baseline": "middle", "dx": 14, "font": "Liberation Sans Narrow, Arial Narrow, DejaVu Sans Condensed, Liberation Sans", "fontSize": 17, "color": "black"},
        "encoding": {"text": {"field": "l"}}}
     ]}
  ], "spacing": 0, "bounds": "flush", "resolve": {"scale": {"x": "independent", "y": "independent", "color": "independent", "size": "independent"}, "legend": {"color": "independent", "size": "independent"}}},
  {"vconcat": [
    {"width":1,"height":1,"data":{"values":[]},"mark":"point","encoding":{}},
    {"width": 324, "height": 313, "data": {"name": "hi24"},
     "title": {"text": "(f)", "anchor": "start", "frame": "group", "baseline": "bottom", "dx": -78, "offset": -42, "font": "Liberation Sans", "fontSize": 20, "fontWeight": "bold", "color": "black"},
     "view": {"stroke": "#222222", "strokeWidth": 1.8},
     "encoding": {
       "y": {"field": "t", "type": "nominal", "title": "Treatment", "scale": {"domain": ["T3−H","T3−M","T2−H","T2−M","T1−H","T1−M"], "paddingInner": 0.22, "paddingOuter": 0.21},
         "axis": {"domain": false, "labelFont": "Liberation Sans", "labelFontSize": 17, "labelColor": "#333333", "labelPadding": 5, "tickSize": 5, "tickColor": "#333333", "tickWidth": 1.3, "titleFont": "Liberation Sans", "titleFontSize": 22, "titleFontWeight": "normal", "titleColor": "black", "titlePadding": 12}},
       "yOffset": {"field": "k", "type": "nominal", "scale": {"domain": ["L−The","L−Glu","L−Asp"], "paddingInner": 0.15}},
       "x": {"field": "v", "type": "quantitative", "stack": null, "title": "Amino acid content (mg g−1)", "scale": {"domain": [-0.45, 11.85], "nice": false, "zero": false},
         "axis": {"values": [0,2.5,5,7.5,9.7], "labelExpr": "datum.value > 9 ? '9.0' : format(datum.value, '.1f')", "domain": false, "grid": false, "labelFont": "Liberation Sans", "labelFontSize": 16, "labelColor": "#333333", "labelPadding": 2, "tickSize": 5, "tickColor": "#333333", "tickWidth": 1.3, "titleFont": "Liberation Sans", "titleFontSize": 26, "titleFontWeight": "normal", "titleColor": "black", "titlePadding": 15}}},
     "layer": [
       {"mark": {"type": "bar", "stroke": "black", "strokeWidth": 1.5},
        "encoding": {"x2": {"datum": 0},
          "color": {"field": "k", "type": "nominal", "scale": {"domain": ["L−Asp","L−Glu","L−The"], "range": ["#fa7f6f","#0a8a0a","#4a8ff0"]},
            "legend": {"orient": "none", "legendX": 4, "legendY": -92, "direction": "horizontal", "title": "Amino acid types (high content)", "titleFont": "Liberation Sans", "titleFontSize": 21, "titleFontWeight": "bold", "titleColor": "black", "titlePadding": 18, "labelFont": "Liberation Sans", "labelFontSize": 20, "labelFontWeight": "bold", "labelColor": "black", "labelOffset": 12, "columnPadding": 17, "symbolType": "square", "symbolSize": 700, "symbolStrokeColor": "black", "symbolStrokeWidth": 1.5, "symbolOpacity": 1}}}},
       {"mark": {"type": "text", "align": "left", "baseline": "middle", "dx": 3, "font": "Liberation Sans", "fontSize": 16, "color": "#111111"},
        "encoding": {"text": {"field": "l"}}}
     ]}
  ], "spacing": 106, "bounds": "flush", "resolve": {"scale": {"x": "independent", "y": "independent", "color": "independent", "yOffset": "independent"}, "legend": {"color": "independent"}}}
 ], "spacing": 7, "resolve": {"scale": {"color": "independent", "size": "independent", "yOffset": "independent"}, "legend": {"color": "independent", "size": "independent"}}}
]
}
